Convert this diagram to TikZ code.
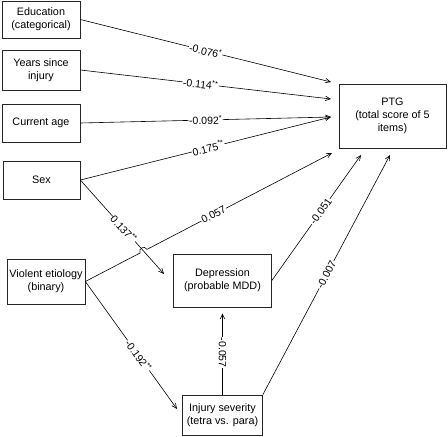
\documentclass[tikz,border=0pt]{standalone}
\usepackage{fontspec}
\setmainfont{Liberation Sans}
\usetikzlibrary{calc,positioning}
\usetikzlibrary{arrows.meta}
\tikzset{>={Straight Barb[width=4.5pt,length=5pt]}}

\begin{document}
\begin{tikzpicture}[x=1pt,y=-1pt]
        \tikzstyle{vnode} = [draw=black!85, line width=0.7pt, rectangle, inner sep=1pt, align=center, font=\fontsize{10.8}{13}\selectfont]
        \tikzstyle{elab} = [sloped, fill=white, inner sep=0.5pt, font=\fontsize{10.5}{12}\selectfont]
        \tikzstyle{edge} = [->, line width=0.6pt]
        \useasboundingbox (0,0) rectangle (448,437);

        % predictors
        \node[vnode, minimum width=78pt, minimum height=37pt] (educ) at (41,19.5) {Education\\(categorical)};
        \node[vnode, minimum width=78pt, minimum height=40pt] (year) at (41,70) {Years since\\injury};
        \node[vnode, minimum width=78pt, minimum height=38pt] (cage) at (41,123) {Current age};
        \node[vnode, minimum width=77pt, minimum height=38pt] (sexn) at (41.5,180) {Sex};
        \node[vnode, minimum width=78pt, minimum height=45pt] (viol) at (46,281.5) {Violent etiology\\(binary)};

        % outcome and mediators
        \node[vnode, minimum width=107pt, minimum height=64pt] (ptgn) at (392.5,116) {PTG\\(total score of 5\\items)};
        \node[vnode, minimum width=98pt, minimum height=53pt] (depr) at (222.5,280.5) {Depression\\(probable MDD)};
        \node[vnode, minimum width=80pt, minimum height=40pt] (injr) at (222.5,415) {Injury severity\\(tetra vs. para)};

        \coordinate (t1) at (331,82);
        \coordinate (t2) at (331,99);
        \coordinate (t3) at (331,117);
        \coordinate (t4) at (332,153);
        \coordinate (t5) at (361,155);
        \coordinate (t6) at (390,155);
        \coordinate (t7) at (164,274);
        \coordinate (t8) at (177,409);

        \draw[edge] (educ.east) -- node[elab] {-0.076\textsuperscript{*}} (t1);
        \draw[edge] (year.east) -- node[elab, pos=0.48] {-0.114\textsuperscript{**}} (t2);
        \draw[edge] (cage.east) -- node[elab] {-0.092\textsuperscript{*}} (t3);
        \draw[edge] (sexn.east) -- node[elab, pos=0.51] {0.175\textsuperscript{**}} (t3);
        \draw[edge] (sexn.east) -- node[elab, pos=0.52] {0.137\textsuperscript{**}} (t7);

        % hop over the sex -> depression line
        \coordinate (ja) at ($(viol.east)!0.222!(t4)$);
        \coordinate (jb) at ($(viol.east)!0.25!(t4)$);
        \draw[edge] (viol.east) -- (ja)
            .. controls ($(ja)!5pt!90:(jb)$) and ($(jb)!5pt!-90:(ja)$) .. (jb)
            -- node[elab, pos=0.36] {0.057} (t4);
        \draw[edge] (viol.east) -- node[elab, pos=0.58] {-0.192\textsuperscript{**}} (t8);

        \draw[edge] (depr.east) -- node[elab, pos=0.55] {-0.051} (t5);
        \draw[edge] (injr.north east) -- node[elab] {-0.007} (t6);
        \draw[edge, shorten >=6pt] (injr.north) -- node[fill=white, inner sep=0.5pt, rotate=-90, font=\fontsize{10.5}{12}\selectfont, pos=0.48] {-0.057} (depr.south);
      \end{tikzpicture}
\end{document}
